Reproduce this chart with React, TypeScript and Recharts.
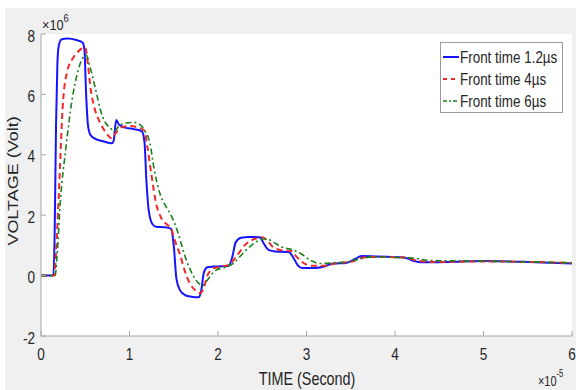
import React from "react";
import { CartesianGrid, Legend, Line, LineChart, XAxis, YAxis } from "recharts";

// time in units of 1e-5 s, voltage in units of 1e6 V
const timeFast = [0, 0.14, 0.155, 0.17, 0.185, 0.2, 0.23, 0.3, 0.4, 0.47, 0.49, 0.51, 0.53, 0.56, 0.62, 0.7, 0.8, 0.82, 0.85, 0.88, 0.95, 1.05, 1.14, 1.17, 1.19, 1.22, 1.26, 1.3, 1.4, 1.47, 1.5, 1.53, 1.57, 1.63, 1.7, 1.78, 1.81, 1.84, 1.88, 1.95, 2.12, 2.16, 2.2, 2.26, 2.35, 2.47, 2.52, 2.57, 2.65, 2.8, 2.85, 2.9, 2.95, 3.1, 3.2, 3.3, 3.45, 3.55, 3.62, 3.8, 4.1, 4.2, 4.3, 4.6, 5.0, 5.5, 6.0];
const voltFast = [0, 0, 1.5, 5.0, 7.0, 7.6, 7.82, 7.85, 7.8, 7.72, 7.5, 6.0, 5.0, 4.65, 4.52, 4.45, 4.38, 4.45, 5.15, 5.0, 4.9, 4.85, 4.78, 4.4, 3.2, 2.1, 1.7, 1.62, 1.6, 1.55, 1.0, -0.1, -0.48, -0.65, -0.7, -0.72, -0.5, 0.1, 0.28, 0.3, 0.32, 0.6, 1.1, 1.25, 1.28, 1.27, 1.05, 0.85, 0.8, 0.78, 0.6, 0.35, 0.25, 0.25, 0.3, 0.4, 0.42, 0.55, 0.65, 0.63, 0.6, 0.5, 0.44, 0.45, 0.48, 0.45, 0.4];

const timeMid = [0, 0.15, 0.17, 0.2, 0.25, 0.3, 0.35, 0.4, 0.45, 0.5, 0.53, 0.56, 0.6, 0.67, 0.73, 0.8, 0.84, 0.9, 1.0, 1.1, 1.17, 1.2, 1.25, 1.3, 1.36, 1.42, 1.47, 1.52, 1.57, 1.62, 1.68, 1.75, 1.8, 1.84, 1.88, 1.93, 2.0, 2.12, 2.2, 2.3, 2.4, 2.5, 2.56, 2.62, 2.7, 2.82, 2.88, 2.95, 3.05, 3.2, 3.35, 3.5, 3.65, 3.8, 4.1, 4.25, 4.4, 5.0, 6.0];
const voltMid = [0, 0, 0.8, 2.6, 5.8, 6.8, 7.15, 7.35, 7.5, 7.55, 7.0, 6.2, 5.6, 5.05, 4.75, 4.55, 4.7, 4.9, 4.95, 4.9, 4.8, 4.3, 3.3, 2.4, 1.9, 1.7, 1.55, 1.1, 0.7, 0.2, -0.25, -0.5, -0.58, -0.4, 0.0, 0.2, 0.28, 0.35, 0.6, 1.0, 1.2, 1.27, 1.15, 0.95, 0.85, 0.82, 0.65, 0.45, 0.33, 0.33, 0.42, 0.45, 0.6, 0.62, 0.6, 0.5, 0.45, 0.47, 0.42];

const timeSlow = [0, 0.16, 0.18, 0.22, 0.28, 0.35, 0.42, 0.47, 0.51, 0.55, 0.59, 0.63, 0.67, 0.72, 0.78, 0.83, 0.88, 0.95, 1.05, 1.12, 1.17, 1.23, 1.28, 1.34, 1.4, 1.46, 1.5, 1.55, 1.6, 1.65, 1.72, 1.78, 1.83, 1.88, 1.93, 1.98, 2.08, 2.17, 2.27, 2.36, 2.45, 2.55, 2.63, 2.72, 2.85, 2.95, 3.05, 3.15, 3.3, 3.45, 3.6, 3.75, 4.0, 4.2, 4.4, 5.0, 6.0];
const voltSlow = [0, 0, 0.6, 2.5, 4.2, 5.8, 6.8, 7.2, 7.3, 6.95, 6.5, 6.0, 5.5, 5.1, 4.9, 4.78, 4.95, 5.05, 5.07, 5.0, 4.8, 4.4, 3.5, 2.75, 2.35, 2.05, 1.8, 1.4, 0.9, 0.45, 0.0, -0.25, -0.32, -0.15, 0.05, 0.18, 0.28, 0.4, 0.7, 0.96, 1.15, 1.22, 1.1, 0.95, 0.85, 0.7, 0.5, 0.4, 0.42, 0.45, 0.55, 0.62, 0.6, 0.58, 0.5, 0.48, 0.42];

const xTicks = [0, 1, 2, 3, 4, 5, 6];
const yTicks = [-2, 0, 2, 4, 6, 8];
const seriesNames = ["Front time 1.2µs", "Front time 4µs", "Front time 6µs"];

const toRows = (t: number[], v: number[]) => t.map((x, i) => ({ t: x, v: v[i] }));

const AXIS = "#a6a6a6";
const INK = "#262626";
const FONT = "'Liberation Sans', Arial, sans-serif";

const series = [
  { name: seriesNames[0], rows: toRows(timeFast, voltFast), color: "#1414ff", dash: undefined, width: 2 },
  { name: seriesNames[1], rows: toRows(timeMid, voltMid), color: "#f02828", dash: "6 4", width: 2 },
  { name: seriesNames[2], rows: toRows(timeSlow, voltSlow), color: "#1a801a", dash: "6 3 2 3", width: 1.6 },
];

function BottomTick({ x, y, payload }: any) {
  return (
    <g>
      <line x1={x} x2={x} y1={y} y2={y - 5} stroke={AXIS} />
      <text transform={`translate(${x},${y + 24}) scale(0.8,1)`} textAnchor="middle" fontSize={17} fill={INK} fontFamily={FONT}>
        {payload.value}
      </text>
    </g>
  );
}

function LeftTick({ x, y, payload }: any) {
  return (
    <g>
      <line x1={x} x2={x + 5} y1={y} y2={y} stroke={AXIS} />
      <text transform={`translate(${x - 6},${y + 7.5}) scale(0.8,1)`} textAnchor="end" fontSize={17} fill={INK} fontFamily={FONT}>
        {payload.value}
      </text>
    </g>
  );
}

function TopTick({ x, y }: any) {
  return <line x1={x} x2={x} y1={y} y2={y + 5} stroke={AXIS} />;
}

function RightTick({ x, y }: any) {
  return <line x1={x} x2={x - 5} y1={y} y2={y} stroke={AXIS} />;
}

function LegendBox() {
  return (
    <svg width={124} height={72} style={{ display: "block" }}>
      <rect x={0.5} y={0.5} width={122} height={70} fill="#fff" stroke="#9a9a9a" />
      {series.map((s, i) => {
        const cy = 15 + i * 22;
        return (
          <g key={s.name}>
            <line x1={3} x2={19} y1={cy} y2={cy} stroke={s.color} strokeWidth={s.width} strokeDasharray={i === 1 ? "4 4" : i === 2 ? "4 2 2 2" : undefined} />
            <text transform={`translate(20,${cy + 6}) scale(0.84,1)`} fontSize={16} fill={INK} fontFamily={FONT}>
              {s.name}
            </text>
          </g>
        );
      })}
    </svg>
  );
}

export default function App() {
  return (
    <div style={{ position: "absolute", left: 0, top: 0, width: 576, height: 390, background: "#fff" }}>
      <div style={{ position: "absolute", left: 5, top: 8, width: 571, height: 382, background: "#f0f0f0" }} />
      <div style={{ position: "absolute", left: 0, top: 0 }}>
        <LineChart width={576} height={390} margin={{ top: 34, right: 4, bottom: 24, left: 11 }}>
          <CartesianGrid fill="#ffffff" horizontal={false} vertical={false} />
          <XAxis
            dataKey="t"
            type="number"
            domain={[0, 6]}
            ticks={xTicks}
            allowDataOverflow
            height={30}
            axisLine={{ stroke: AXIS }}
            tickLine={false}
            tickSize={0}
            tickMargin={0}
            tick={BottomTick}
            interval={0}
          />
          <XAxis
            xAxisId="top"
            orientation="top"
            type="number"
            domain={[0, 6]}
            ticks={xTicks}
            allowDataOverflow
            height={0}
            axisLine={{ stroke: AXIS }}
            tickLine={false}
            tickSize={0}
            tickMargin={0}
            tick={TopTick}
            interval={0}
          />
          <YAxis
            type="number"
            domain={[-2, 8]}
            ticks={yTicks}
            allowDataOverflow
            width={30}
            axisLine={{ stroke: AXIS }}
            tickLine={false}
            tickSize={0}
            tickMargin={0}
            tick={LeftTick}
            interval={0}
          />
          <YAxis
            yAxisId="right"
            orientation="right"
            type="number"
            domain={[-2, 8]}
            ticks={yTicks}
            allowDataOverflow
            width={0}
            axisLine={{ stroke: AXIS }}
            tickLine={false}
            tickSize={0}
            tickMargin={0}
            tick={RightTick}
            interval={0}
          />
          {series.map((s) => (
            <Line
              key={s.name}
              name={s.name}
              data={s.rows}
              dataKey="v"
              type="monotone"
              stroke={s.color}
              strokeWidth={s.width}
              strokeDasharray={s.dash}
              dot={false}
              activeDot={false}
              isAnimationActive={false}
            />
          ))}
          <Legend
            layout="vertical"
            align="center"
            verticalAlign="middle"
            content={() => <LegendBox />}
            wrapperStyle={{ left: 440, top: 42, width: 124, height: 72 }}
          />
        </LineChart>
      </div>
      <svg width={576} height={390} style={{ position: "absolute", left: 0, top: 0, pointerEvents: "none" }}>
        <text transform="translate(42,30) scale(0.85,1)" fontSize={15} fill={INK} fontFamily={FONT}>
          ×10
          <tspan dy={-8} fontSize={11}>6</tspan>
        </text>
        <text transform="translate(538,386) scale(0.78,1)" fontSize={14} fill={INK} fontFamily={FONT}>
          ×10
          <tspan dy={-9} fontSize={10}>-5</tspan>
        </text>
        <text transform="translate(307,385) scale(0.8,1)" textAnchor="middle" fontSize={18} fill={INK} fontFamily={FONT}>
          TIME (Second)
        </text>
        <text transform="translate(18,181) rotate(-90) scale(1,0.8)" textAnchor="middle" fontSize={18} fill={INK} fontFamily={FONT}>
          VOLTAGE (Volt)
        </text>
      </svg>
    </div>
  );
}
